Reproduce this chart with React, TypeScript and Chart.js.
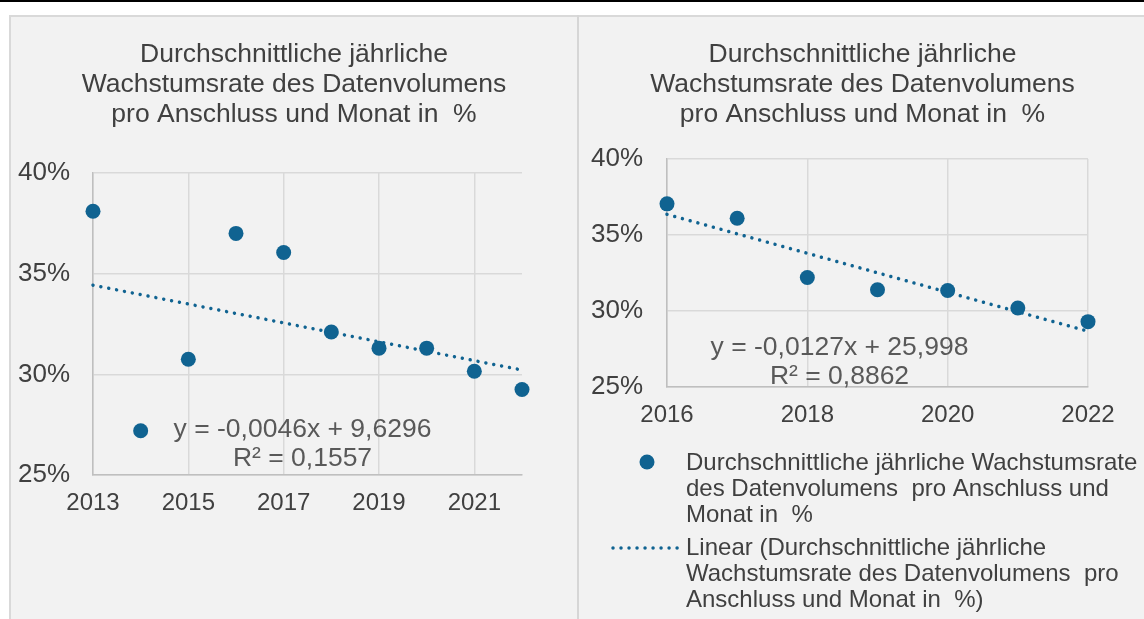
import React, { useEffect, useRef } from 'react';
import { Chart, registerables } from 'chart.js';

Chart.register(...registerables);

const FONT = '"Liberation Sans", Arial, Helvetica, sans-serif';
const TEXT = '#404040';
const EQ_TEXT = '#595959';
const BLUE = '#106391';
const GRID = '#d9d9d9';
const AXIS = '#bfbfbf';

// ---- data ----
const titleLines = [
  'Durchschnittliche jährliche',
  'Wachstumsrate des Datenvolumens',
  'pro Anschluss und Monat in  %',
];

const yearsLeft = [2013, 2014, 2015, 2016, 2017, 2018, 2019, 2020, 2021, 2022];
const valuesLeft = [38.1, 27.2, 30.75, 37.0, 36.05, 32.1, 31.3, 31.3, 30.15, 29.25];

const yearsRight = [2016, 2017, 2018, 2019, 2020, 2021, 2022];
const valuesRight = [37.05, 36.1, 32.2, 31.4, 31.35, 30.2, 29.3];

const xTicksLeft = [2013, 2015, 2017, 2019, 2021];
const xTicksRight = [2016, 2018, 2020, 2022];
const yTicks = [25, 30, 35, 40];

const eqLeft = ['y = -0,0046x + 9,6296', 'R² = 0,1557'];
const eqRight = ['y = -0,0127x + 25,998', 'R² = 0,8862'];

const seriesLabel = 'Durchschnittliche jährliche Wachstumsrate des Datenvolumens  pro Anschluss und Monat in  %';
const trendLabel = 'Linear (Durchschnittliche jährliche Wachstumsrate des Datenvolumens  pro Anschluss und Monat in  %)';
const legendSeriesLines = [
  'Durchschnittliche jährliche Wachstumsrate',
  'des Datenvolumens  pro Anschluss und',
  'Monat in  %',
];
const legendTrendLines = [
  'Linear (Durchschnittliche jährliche',
  'Wachstumsrate des Datenvolumens  pro',
  'Anschluss und Monat in  %)',
];

// least-squares linear trend (what the chart's "Linear" trendline is)
function linearTrend(xs: number[], ys: number[]) {
  const n = xs.length;
  const mx = xs.reduce((a, b) => a + b, 0) / n;
  const my = ys.reduce((a, b) => a + b, 0) / n;
  let sxy = 0;
  let sxx = 0;
  for (let i = 0; i < n; i++) {
    sxy += (xs[i] - mx) * (ys[i] - my);
    sxx += (xs[i] - mx) * (xs[i] - mx);
  }
  const slope = sxy / sxx;
  const intercept = my - slope * mx;
  const x0 = Math.min(...xs);
  const x1 = Math.max(...xs);
  return [
    { x: x0, y: intercept + slope * x0 },
    { x: x1, y: intercept + slope * x1 },
  ];
}

type Extra = {
  eq: string[];
  eqDx: number;
  eqDy: number;
  legend?: boolean;
};

function makeTextPlugin(extra: Extra) {
  return {
    id: 'extraText',
    afterDraw(chart: any) {
      const ctx = chart.ctx;
      const area = chart.chartArea;
      ctx.save();
      ctx.font = `26.5px ${FONT}`;
      ctx.fillStyle = EQ_TEXT;
      ctx.textAlign = 'center';
      ctx.textBaseline = 'middle';
      extra.eq.forEach((line, i) => {
        ctx.fillText(line, area.left + extra.eqDx, area.top + extra.eqDy + i * 29);
      });
      if (extra.legend) {
        const lx = 107;
        const y1 = area.bottom + 76;
        const y2 = area.bottom + 161;
        const lh = 26;
        // marker
        ctx.fillStyle = BLUE;
        ctx.beginPath();
        ctx.arc(68, y1 - 1, 7.5, 0, Math.PI * 2);
        ctx.fill();
        // dotted line sample
        ctx.strokeStyle = BLUE;
        ctx.lineWidth = 3.5;
        ctx.lineCap = 'round';
        ctx.setLineDash([0.01, 8]);
        ctx.beginPath();
        ctx.moveTo(34, y2);
        ctx.lineTo(102, y2);
        ctx.stroke();
        ctx.setLineDash([]);
        ctx.font = `24px ${FONT}`;
        ctx.fillStyle = TEXT;
        ctx.textAlign = 'left';
        ctx.textBaseline = 'middle';
        legendSeriesLines.forEach((t, i) => ctx.fillText(t, lx, y1 + i * lh));
        legendTrendLines.forEach((t, i) => ctx.fillText(t, lx, y2 + i * lh));
      }
      ctx.restore();
    },
  };
}

type Cfg = {
  years: number[];
  values: number[];
  xTicks: number[];
  xMin: number;
  xMax: number;
  yWidth: number;
  yPad: number;
  titleBottom: number;
  rightSpace: number;
  padBottom: number;
  extra: Extra;
};

function makeConfig(c: Cfg): any {
  const points = c.years.map((x, i) => ({ x, y: c.values[i] }));
  const trend = linearTrend(c.years, c.values);
  return {
    type: 'scatter',
    data: {
      datasets: [
        {
          type: 'scatter',
          label: seriesLabel,
          data: points,
          pointRadius: 7.5,
          pointHoverRadius: 7.5,
          pointBackgroundColor: BLUE,
          pointBorderWidth: 0,
          borderColor: BLUE,
          clip: false,
          order: 1,
        },
        {
          type: 'line',
          label: trendLabel,
          data: trend,
          borderColor: BLUE,
          borderWidth: 3.5,
          borderDash: [0.01, 8],
          borderCapStyle: 'round',
          pointRadius: 0,
          fill: false,
          clip: false,
          order: 0,
        },
      ],
    },
    options: {
      responsive: false,
      animation: false,
      events: [],
      layout: { padding: { left: 0, top: 0, right: 0, bottom: c.padBottom } },
      plugins: {
        legend: { display: false },
        tooltip: { enabled: false },
        title: {
          display: true,
          text: titleLines,
          color: TEXT,
          font: { family: FONT, size: 26.5, weight: 'normal', lineHeight: 30 / 26.5 },
          padding: { top: 23, bottom: c.titleBottom },
        },
      },
      scales: {
        x: {
          type: 'linear',
          min: c.xMin,
          max: c.xMax,
          afterBuildTicks: (s: any) => {
            s.ticks = c.xTicks.map((v) => ({ value: v }));
          },
          afterFit: (s: any) => {
            s.height = 60;
          },
          ticks: {
            callback: (v: any) => String(v),
            color: TEXT,
            font: { family: FONT, size: 24 },
            padding: 14,
            maxRotation: 0,
            autoSkip: false,
          },
          grid: { color: GRID, lineWidth: 1.5, drawTicks: false },
          border: { color: AXIS, width: 1.5 },
        },
        y: {
          type: 'linear',
          min: 25,
          max: 40,
          afterBuildTicks: (s: any) => {
            s.ticks = yTicks.map((v) => ({ value: v }));
          },
          afterFit: (s: any) => {
            s.width = c.yWidth;
          },
          ticks: {
            callback: (v: any) => `${v}%`,
            color: TEXT,
            font: { family: FONT, size: 26 },
            padding: c.yPad,
          },
          grid: { color: GRID, lineWidth: 1.5, drawTicks: false },
          border: { color: AXIS, width: 1.5 },
        },
        // empty right-hand spacer so the title stays centred on the whole frame
        spacer: {
          type: 'linear',
          position: 'right',
          display: true,
          min: 25,
          max: 40,
          afterFit: (s: any) => {
            s.width = c.rightSpace;
          },
          ticks: { display: false },
          grid: { display: false, drawTicks: false },
          border: { display: false },
        },
      },
    },
    plugins: [makeTextPlugin(c.extra)],
  };
}

function ChartCanvas(props: { config: any; width: number; height: number; left: number; top: number }) {
  const ref = useRef<HTMLCanvasElement | null>(null);
  useEffect(() => {
    if (!ref.current) return;
    const chart = new Chart(ref.current, props.config);
    return () => chart.destroy();
  }, []);
  return (
    <canvas
      ref={ref}
      width={props.width}
      height={props.height}
      style={{
        position: 'absolute',
        left: props.left,
        top: props.top,
        width: props.width,
        height: props.height,
        display: 'block',
      }}
    />
  );
}

const leftConfig = makeConfig({
  years: yearsLeft,
  values: valuesLeft,
  xTicks: xTicksLeft,
  xMin: 2013,
  xMax: 2022,
  yWidth: 82,
  yPad: 23,
  titleBottom: 43,
  rightSpace: 55,
  padBottom: 84,
  extra: { eq: eqLeft, eqDx: 209.5, eqDy: 257 },
});

const rightConfig = makeConfig({
  years: yearsRight,
  values: valuesRight,
  xTicks: xTicksRight,
  xMin: 2016,
  xMax: 2022,
  yWidth: 88,
  yPad: 24,
  titleBottom: 29,
  rightSpace: 58,
  padBottom: 172,
  extra: { eq: eqRight, eqDx: 172.5, eqDy: 188.5, legend: true },
});

export default function App() {
  return (
    <div
      style={{
        position: 'absolute',
        left: 0,
        top: 0,
        width: 1144,
        height: 619,
        overflow: 'hidden',
        background: '#ffffff',
      }}
    >
      <div style={{ position: 'absolute', left: 0, top: 0, width: 1144, height: 2, background: '#000' }} />
      <div
        style={{
          position: 'absolute',
          left: 9,
          top: 15,
          width: 1200,
          height: 700,
          background: '#f2f2f2',
          border: '2px solid #d9d9d9',
          boxSizing: 'border-box',
        }}
      />
      <div style={{ position: 'absolute', left: 577, top: 15, width: 2, height: 700, background: '#d6d6d6' }} />
      <ChartCanvas config={leftConfig} width={566} height={602} left={11} top={17} />
      <ChartCanvas config={rightConfig} width={567} height={602} left={579} top={17} />
    </div>
  );
}
